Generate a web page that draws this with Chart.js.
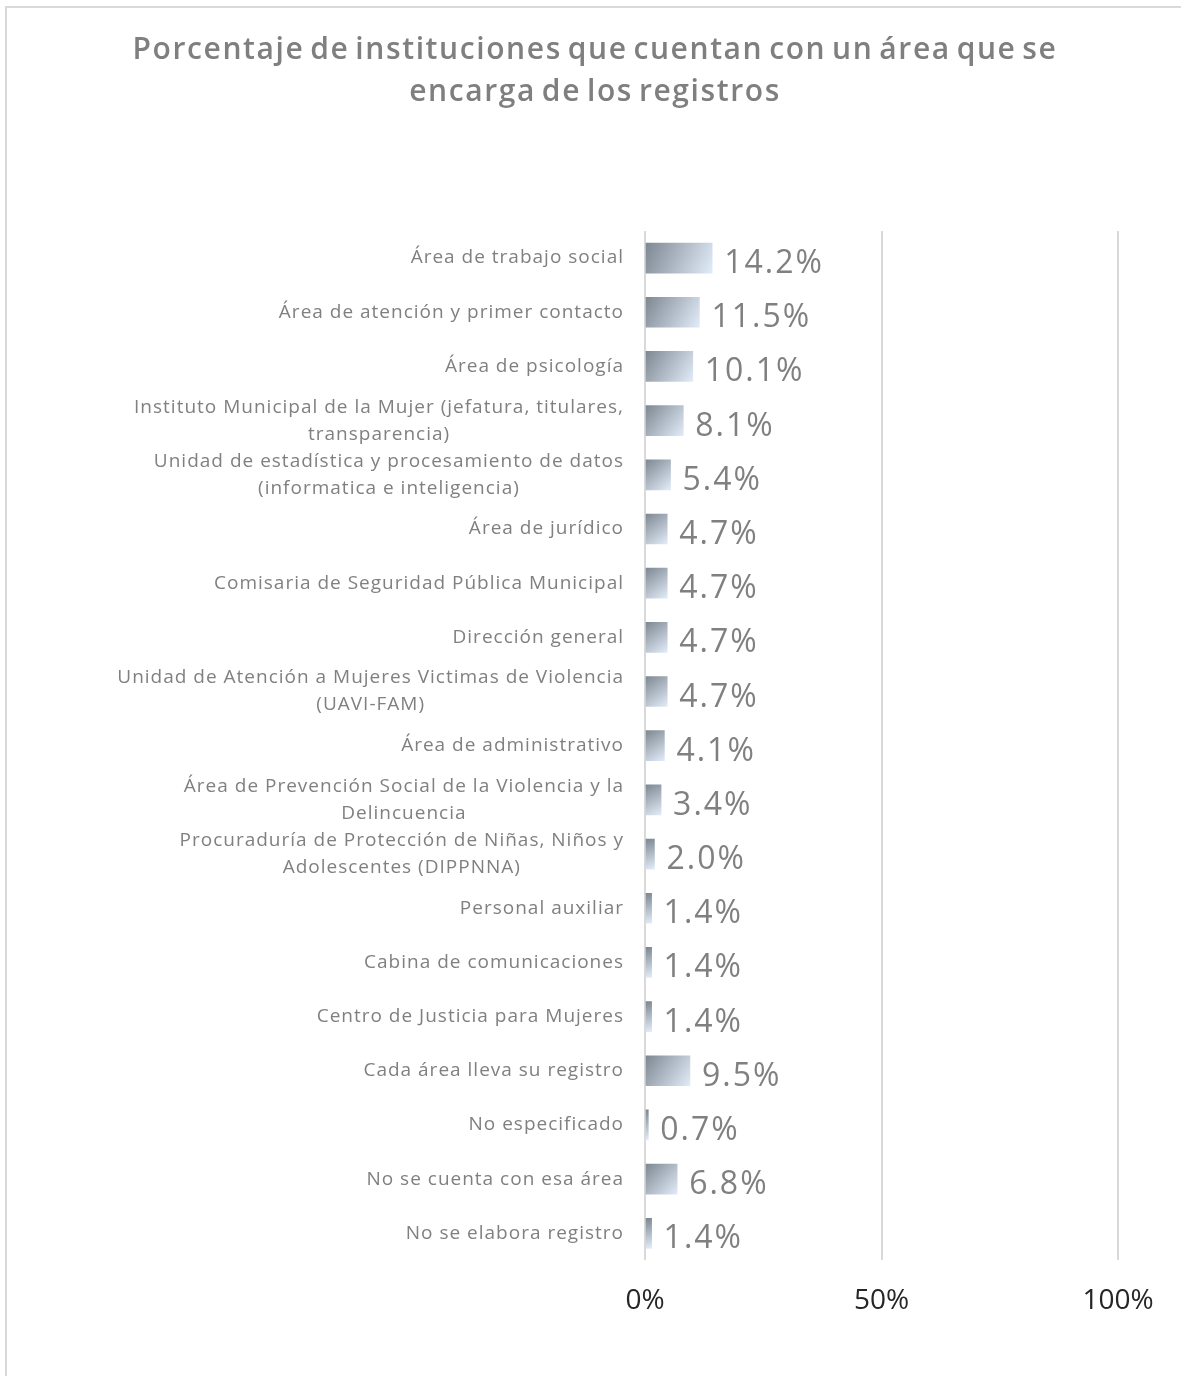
<!DOCTYPE html>
<html>
<head>
<meta charset="utf-8">
<script src="https://cdn.jsdelivr.net/npm/chart.js@4.4.1/dist/chart.umd.min.js"></script>
<style>
  body { margin: 0; background: #fff; }
  #frame {
    position: absolute; left: 5px; top: 6px;
    width: 1176px; height: 1370px;
    border-left: 2px solid #d9d9d9; border-top: 2px solid #d9d9d9;
  }
</style>
</head>
<body>
<div id="frame"><canvas id="chart" width="1174" height="1368"></canvas></div>
<script>
// Categorías (las que tienen dos líneas van como arreglo)
const categorias = [
  "Área de trabajo social",
  "Área de atención y primer contacto",
  "Área de psicología",
  ["Instituto Municipal de la Mujer (jefatura, titulares,", "transparencia)"],
  ["Unidad de estadística y procesamiento de datos", "(informatica e inteligencia)"],
  "Área de jurídico",
  "Comisaria de Seguridad Pública Municipal",
  "Dirección general",
  ["Unidad de Atención a Mujeres Victimas de Violencia", "(UAVI-FAM)"],
  "Área de administrativo",
  ["Área de Prevención Social de la Violencia y la", "Delincuencia"],
  ["Procuraduría de Protección de Niñas, Niños y", "Adolescentes (DIPPNNA)"],
  "Personal auxiliar",
  "Cabina de comunicaciones",
  "Centro de Justicia para Mujeres",
  "Cada área lleva su registro",
  "No especificado",
  "No se cuenta con esa área",
  "No se elabora registro"
];

// Porcentajes
const porcentajes = [14.2, 11.5, 10.1, 8.1, 5.4, 4.7, 4.7, 4.7, 4.7, 4.1, 3.4, 2.0, 1.4, 1.4, 1.4, 9.5, 0.7, 6.8, 1.4];

// Marcas del eje x
const marcasX = [0, 50, 100];

const titulo = [
  "Porcentaje de instituciones que cuentan con un área que se",
  "encarga de los registros"
];

// Degradado de cada barra (oscuro arriba a la izquierda, claro abajo a la derecha)
function degradadoBarra(c) {
  const chart = c.chart;
  const xs = chart.scales.x, ys = chart.scales.y;
  if (!xs || !ys || c.dataIndex === undefined) return "#a9b4c0";
  const x0 = xs.getPixelForValue(0);
  const x1 = xs.getPixelForValue(c.raw);
  const yc = ys.getPixelForValue(c.dataIndex);
  if (![x0, x1, yc].every(Number.isFinite)) return "#a9b4c0";
  const g = chart.ctx.createLinearGradient(x0, yc - 15, Math.max(x1, x0 + 2), yc + 15);
  g.addColorStop(0, "#7d8792");
  g.addColorStop(1, "#e1ecf8");
  return g;
}

// Título centrado sobre todo el lienzo
const tituloPlugin = {
  id: "tituloPlugin",
  afterDraw(chart) {
    const ctx = chart.ctx;
    ctx.save();
    ctx.font = "600 30px 'Open Sans'";
    ctx.letterSpacing = "1.6px";
    ctx.wordSpacing = "-3.5px";
    ctx.fillStyle = "#7f7f7f";
    ctx.textAlign = "center";
    ctx.textBaseline = "middle";
    titulo.forEach((linea, j) => ctx.fillText(linea, 588, 42 + j * 42));
    ctx.restore();
  }
};

// Etiquetas del eje y dibujadas a mano (Excel centra las de dos líneas)
const etiquetasY = {
  id: "etiquetasY",
  afterDraw(chart) {
    const ctx = chart.ctx;
    const ys = chart.scales.y;
    const derecha = 617;
    ctx.save();
    ctx.font = "400 19px 'Open Sans'";
    ctx.letterSpacing = "1px";
    ctx.fillStyle = "#808080";
    ctx.textBaseline = "middle";
    categorias.forEach((cat, i) => {
      const yc = ys.getPixelForValue(i);
      if (Array.isArray(cat)) {
        const ancho = Math.max(...cat.map(l => ctx.measureText(l).width));
        const cx = derecha - ancho / 2;
        ctx.textAlign = "center";
        cat.forEach((linea, j) => {
          ctx.fillText(linea, cx, yc + (j - (cat.length - 1) / 2) * 27);
        });
      } else {
        ctx.textAlign = "right";
        ctx.fillText(cat, derecha, yc);
      }
    });
    ctx.restore();
  }
};

// Valores al final de cada barra
const valores = {
  id: "valores",
  afterDatasetsDraw(chart) {
    const ctx = chart.ctx;
    const meta = chart.getDatasetMeta(0);
    ctx.save();
    ctx.font = "500 32px 'Open Sans'";
    ctx.letterSpacing = "2px";
    ctx.fillStyle = "#808080";
    ctx.textAlign = "left";
    ctx.textBaseline = "alphabetic";
    meta.data.forEach((bar, i) => {
      ctx.fillText(porcentajes[i].toFixed(1) + "%", bar.x + 12, bar.y + 15);
    });
    ctx.restore();
  }
};

new Chart(document.getElementById("chart").getContext("2d"), {
  type: "bar",
  data: {
    labels: categorias,
    datasets: [{
      data: porcentajes,
      backgroundColor: degradadoBarra,
      borderWidth: 0,
      barThickness: 30
    }]
  },
  options: {
    indexAxis: "y",
    responsive: false,
    animation: false,
    layout: { padding: { left: 0, right: 63, top: 223, bottom: 34 } },
    plugins: {
      legend: { display: false },
      tooltip: { enabled: false },
      title: { display: false }
    },
    scales: {
      x: {
        min: 0,
        max: 100,
        afterBuildTicks: (scale) => { scale.ticks = marcasX.map(v => ({ value: v })); },
        ticks: {
          callback: (v) => v + "%",
          color: "#262626",
          font: { family: "'Open Sans'", size: 28 },
          padding: 24,
          maxRotation: 0
        },
        grid: { color: "#d9d9d9", lineWidth: 2, drawTicks: false },
        border: { display: false }
      },
      y: {
        ticks: { display: false },
        grid: { display: false },
        border: { display: false },
        afterFit: (scale) => { scale.width = 638; }
      }
    }
  },
  plugins: [tituloPlugin, etiquetasY, valores]
});
</script>
</body>
</html>
